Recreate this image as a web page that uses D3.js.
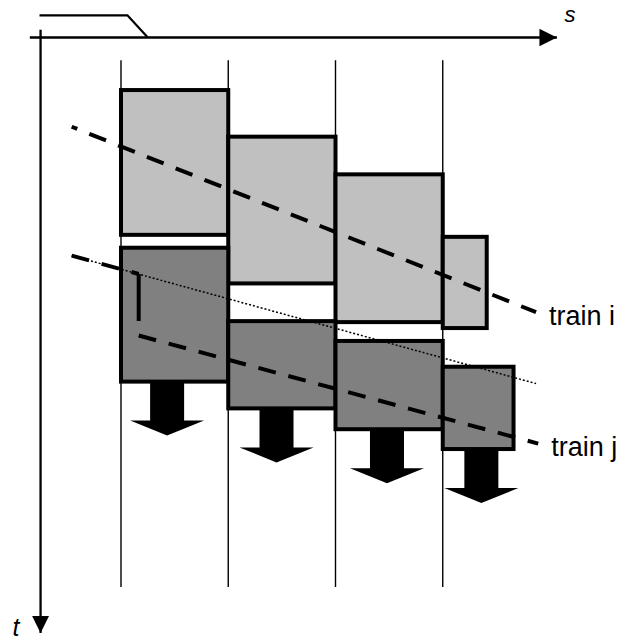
<html>
<head>
    <title>Blocking time diagram</title>
    <style>
        body { margin: 0; background: white; }
        text { font-family: "Liberation Sans", Arial, sans-serif; }
    </style>
</head>
<body>
    <svg id="container" width="633" height="642" style="background:white">
        <defs>
            <marker id="arrowHead" markerUnits="userSpaceOnUse" markerWidth="18" markerHeight="18"
                    viewBox="0 -9 18 18" refX="17.5" refY="0" orient="auto">
                <path d="M0,-8.7L17.5,0L0,8.7Z" fill="black"></path>
            </marker>
        </defs>
        <g id="sections"></g>
        <g id="arrows"></g>
        <g id="blocksI"></g>
        <g id="blocksJ"></g>
        <g id="paths"></g>
        <g id="xAxis"></g>
        <g id="yAxis"></g>
        <g id="labels"></g>
    </svg>
    <script src="https://d3js.org/d3.v7.min.js"></script>
    <script>
        // section boundaries along the line (km) and the time span their lines cover (s)
        let sections = [0, 1, 2, 3]
        let sectionSpan = [23, 554]

        // blocking times of train i (light grey)
        let blockI_s0 = [0, 1, 2, 3]
        let blockI_s1 = [1, 2, 3, 3.41]
        let blockI_t0 = [53, 100, 138, 201]
        let blockI_t1 = [199, 248, 287, 293]

        // blocking times of train j (dark grey)
        let blockJ_s0 = [0, 1, 2, 3]
        let blockJ_s1 = [1, 2, 3, 3.66]
        let blockJ_t0 = [212, 286, 306, 332]
        let blockJ_t1 = [347, 374, 395, 415]

        // delay arrows under the train j blocks
        let arrowS = [0.43, 1.45, 2.48, 3.36]

        // train paths as [s, t]
        let trainI = [[-0.46, 90], [3.87, 277]]
        let trainJPlanned = [[-0.46, 220], [3.87, 349]]
        let trainJ = [[-0.46, 220], [0.165, 238.5], [0.165, 300.5], [3.89, 409.5]]
        let trainJDash = ["18,13", "47,40", "18,13"]
        let trainNames = ["train i", "train j"]

        // signal symbol at the top left
        let signal = [[-0.76, -22.4], [0.06, -22.4], [0.25, 0]]

        // axes
        let sExtent = [-0.855, 4.06]
        let tExtent = [-8.3, 600]
        let tAxisAt = -0.75

        let container = d3.select("#container")

        let sScale = d3.scaleLinear().domain([0, 4]).range([121, 550])
        let tScale = d3.scaleLinear().domain([0, 600]).range([37.5, 632.5])
        let line = d3.line().x(d => sScale(d[0])).y(d => tScale(d[1]))

        // section lines
        d3.select("#sections").selectAll("line")
            .data(sections)
            .enter()
            .append("line")
            .attr("x1", d => sScale(d))
            .attr("x2", d => sScale(d))
            .attr("y1", tScale(sectionSpan[0]))
            .attr("y2", tScale(sectionSpan[1]))
            .attr("stroke", "black")
            .attr("stroke-width", 1.4)

        // arrows
        let arrowShape = (cx, y0) => [[cx - 17, y0], [cx + 17, y0], [cx + 17, y0 + 39], [cx + 37, y0 + 39],
                                      [cx, y0 + 54], [cx - 37, y0 + 39], [cx - 17, y0 + 39]]
        d3.select("#arrows").selectAll("polygon")
            .data(arrowS)
            .enter()
            .append("polygon")
            .attr("points", (d, i) => arrowShape(sScale(d), tScale(blockJ_t1[i])).join(" "))
            .attr("fill", "black")

        // blocks
        function drawBlocks(id, s0, s1, t0, t1, fill) {
            d3.select(id).selectAll("rect")
                .data(s0)
                .enter()
                .append("rect")
                .attr("x", (d, i) => sScale(s0[i]))
                .attr("y", (d, i) => tScale(t0[i]))
                .attr("width", (d, i) => sScale(s1[i]) - sScale(s0[i]))
                .attr("height", (d, i) => tScale(t1[i]) - tScale(t0[i]))
                .attr("fill", fill)
                .attr("stroke", "black")
                .attr("stroke-width", 4)
        }
        drawBlocks("#blocksI", blockI_s0, blockI_s1, blockI_t0, blockI_t1, "#c0c0c0")
        drawBlocks("#blocksJ", blockJ_s0, blockJ_s1, blockJ_t0, blockJ_t1, "#808080")

        // train paths
        let paths = d3.select("#paths")
        paths.append("path")
            .attr("d", line(trainJPlanned))
            .attr("fill", "none")
            .attr("stroke", "black")
            .attr("stroke-width", 1.5)
            .attr("stroke-dasharray", "2,2")
        paths.append("path")
            .attr("d", line(trainI))
            .attr("fill", "none")
            .attr("stroke", "black")
            .attr("stroke-width", 4)
            .attr("stroke-dasharray", "18,13")
            .attr("stroke-dashoffset", 12)
        paths.selectAll(".segJ")
            .data(d3.pairs(trainJ))
            .enter()
            .append("path")
            .attr("class", "segJ")
            .attr("d", d => line(d))
            .attr("fill", "none")
            .attr("stroke", "black")
            .attr("stroke-width", 4)
            .attr("stroke-dasharray", (d, i) => trainJDash[i])

        // signal symbol
        paths.append("path")
            .attr("d", line(signal))
            .attr("fill", "none")
            .attr("stroke", "black")
            .attr("stroke-width", 2.2)

        // axes
        let sAxisScale = d3.scaleLinear().domain(sExtent).range(sExtent.map(sScale))
        let tAxisScale = d3.scaleLinear().domain(tExtent).range(tExtent.map(tScale))
        d3.select("#xAxis")
            .attr("transform", "translate(0," + (tScale(0) - 0.5) + ")")
            .call(d3.axisBottom(sAxisScale).tickValues([]).tickSizeOuter(0))
        d3.select("#yAxis")
            .attr("transform", "translate(" + (sScale(tAxisAt) - 0.5) + ",0)")
            .call(d3.axisRight(tAxisScale).tickValues([]).tickSizeOuter(0))
        container.selectAll(".domain")
            .attr("stroke", "black")
            .attr("stroke-width", 2.3)
            .attr("marker-end", "url(#arrowHead)")

        // labels
        let labels = d3.select("#labels")
        labels.selectAll(".train")
            .data([trainI, trainJ])
            .enter()
            .append("text")
            .attr("class", "train")
            .attr("x", d => sScale(d[d.length - 1][0]) + 13)
            .attr("y", d => tScale(d[d.length - 1][1]) + 12.5)
            .attr("font-size", 27)
            .text((d, i) => trainNames[i])
        labels.append("text")
            .attr("x", sScale(sExtent[1]) + 8)
            .attr("y", tScale(0) - 16)
            .attr("font-size", 22)
            .attr("font-style", "italic")
            .text("s")
        labels.append("text")
            .attr("x", sScale(tAxisAt) - 28)
            .attr("y", tScale(tExtent[1]) + 3.5)
            .attr("font-size", 25)
            .attr("font-style", "italic")
            .text("t")
    </script>
</body>
</html>
